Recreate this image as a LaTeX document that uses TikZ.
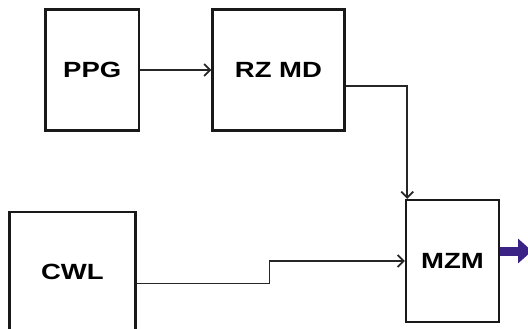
\documentclass[tikz,border=0pt]{standalone}
\usepackage{fontspec}
\setmainfont{Liberation Sans}
\usetikzlibrary{arrows.meta}
\definecolor{outviolet}{HTML}{3B2385}
\newcommand{\wide}[1]{\scalebox{1.25}[1]{#1}}
\begin{document}
\begin{tikzpicture}[
        x=1pt, y=-1pt,
        block/.style={draw=black!90, line width=2.3pt, inner sep=0pt, font=\bfseries\fontsize{22}{26}\selectfont},
        link/.style={draw=black!85, line width=1.7pt, -{Straight Barb[length=6pt, width=12pt, line width=1.7pt]}},
        outarrow/.style={draw=outviolet, fill=outviolet, line width=9pt, -{Triangle[length=14pt, width=24pt]}}
    ]
        \clip (0,0) rectangle (528,329);
        \fill[white] (0,0) rectangle (528,329);

        % Blocks
        \node[block, minimum width=93.5pt, minimum height=121pt] (ppg) at (92.2,70) {\wide{PPG}};
        \node[block, minimum width=132pt, minimum height=121pt] (rzmd) at (278.5,70) {\wide{RZ MD}};
        \node[block, minimum width=93pt, minimum height=122pt] (mzm) at (452.4,261) {\wide{MZM}};
        \node[block, minimum width=126pt, minimum height=119pt] (cwl) at (72.4,271.5) {\wide{CWL}};

        % Output end
        \coordinate (outend) at (532,251);

        % Connections
        \draw[link] (ppg) -- (rzmd);
        \draw[link] ([yshift=-16pt]rzmd.east) -| ([xshift=2.5pt]mzm.north west);
        \draw[link] ([yshift=-12pt]cwl.east) -- ++(133,0) |- (mzm.west);
        \draw[outarrow] ([yshift=10pt]mzm.east) -- (outend);
    \end{tikzpicture}
\end{document}
